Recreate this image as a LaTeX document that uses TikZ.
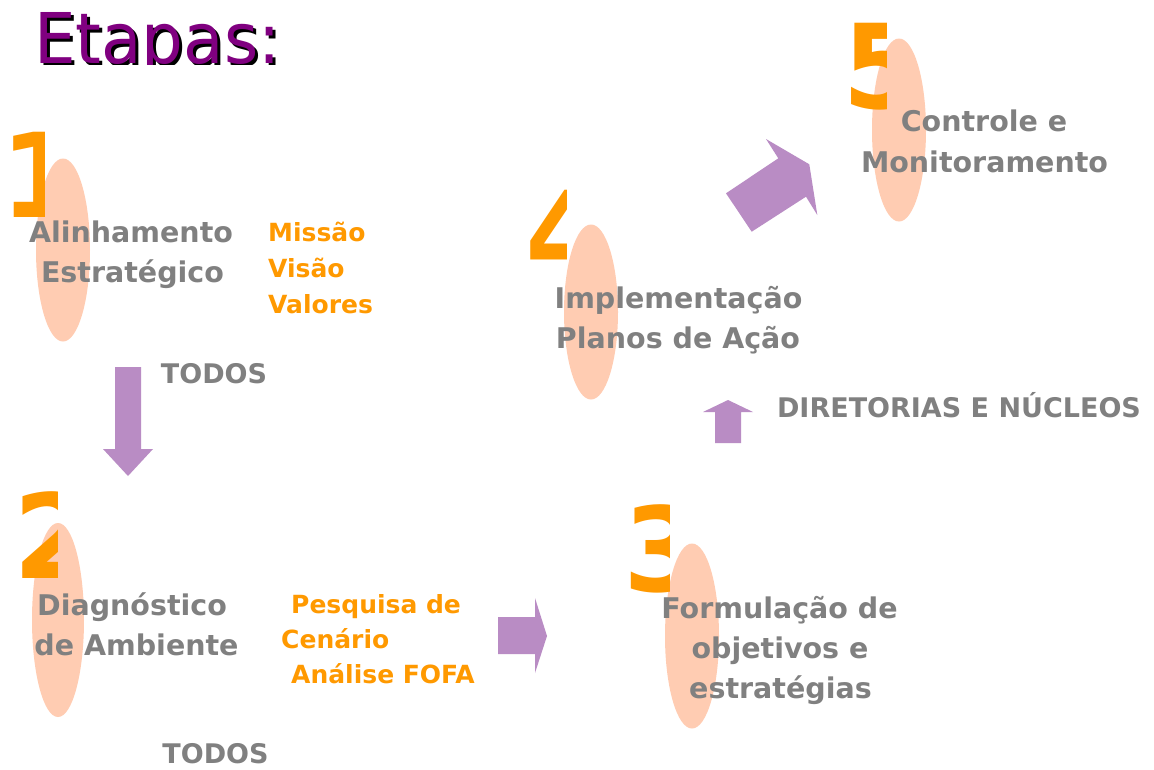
\documentclass[tikz,border=0pt]{standalone}
\usepackage{fontspec}
\setmainfont{DejaVu Sans}
\newfontfamily\titlefont[FakeStretch=0.94]{DejaVu Sans}
\usetikzlibrary{shapes.geometric}
\definecolor{lbl}{RGB}{128,128,128}
\definecolor{org}{RGB}{255,153,0}
\definecolor{peach}{RGB}{255,204,178}
\definecolor{arrowc}{RGB}{185,140,196}
\definecolor{ttl}{RGB}{128,0,128}
\begin{document}
\begin{tikzpicture}[x=1pt,y=-1pt,
  stage/.style={ellipse, fill=peach, draw=none, inner sep=0pt},
  lbltext/.style={text=lbl, font=\fontsize{28.5}{34}\selectfont\bfseries, inner sep=0pt, anchor=base},
  subtext/.style={text=org, font=\fontsize{25}{30}\selectfont\bfseries, inner sep=0pt, anchor=base west},
  who/.style={text=lbl, font=\fontsize{27}{32}\selectfont\bfseries, inner sep=0pt, anchor=base},
  digit/.style={text=org, font=\fontsize{117}{120}\selectfont\bfseries, inner sep=0pt, anchor=base west},
  titletext/.style={font=\titlefont\fontsize{70}{80}\selectfont, inner sep=0pt, anchor=base west},
  blockarrow/.style={fill=arrowc, draw=none}]
\useasboundingbox (0,0) rectangle (1154,769);
\fill[white] (0,0) rectangle (1154,769);

% title
\begin{scope}
  \clip (0,0) rectangle (400,64);
  \node[titletext, text=black] (tshadow) at (37,66) {Etapas:};
  \node[titletext, text=ttl] (title) at (34,63) {Etapas:};
\end{scope}

% ellipses
\node[stage, minimum width=54pt, minimum height=183pt] (e1) at (63,250) {};
\node[stage, minimum width=52pt, minimum height=194pt] (e2) at (58,620) {};
\node[stage, minimum width=54pt, minimum height=185pt] (e3) at (692,636) {};
\node[stage, minimum width=54pt, minimum height=175pt] (e4) at (591,312) {};
\node[stage, minimum width=54pt, minimum height=183pt] (e5) at (899,130) {};

% digits (clipped on the right)
\begin{scope}
  \clip (0,0) rectangle (44,769);
  \node[digit] (d1) at (0,217) {1};
\end{scope}
\begin{scope}
  \clip (0,0) rectangle (57,769);
  \node[digit] (d2) at (13,578) {2};
\end{scope}
\begin{scope}
  \clip (600,0) rectangle (669,769);
  \node[digit] (d3) at (623,591) {3};
\end{scope}
\begin{scope}
  \clip (500,0) rectangle (566,769);
  \node[digit] (d4) at (525,275) {4};
\end{scope}
\begin{scope}
  \clip (800,0) rectangle (886,769);
  \node[digit] (d5) at (842,108) {5};
\end{scope}

% stage labels
\node[lbltext] (l1a) at (131,242) {Alinhamento};
\node[lbltext] (l1b) at (132.5,282) {Estratégico};
\node[lbltext] (l2a) at (132,615) {Diagnóstico};
\node[lbltext] (l2b) at (136.5,655) {de Ambiente};
\node[lbltext] (l3a) at (779.5,618) {Formulação de};
\node[lbltext] (l3b) at (780,658) {objetivos e};
\node[lbltext] (l3c) at (780.5,698) {estratégias};
\node[lbltext] (l4a) at (678.5,308) {Implementação};
\node[lbltext] (l4b) at (678,348) {Planos de Ação};
\node[lbltext] (l5a) at (984,131) {Controle e};
\node[lbltext] (l5b) at (984.5,172) {Monitoramento};

% orange sub items
\node[subtext] (s1a) at (268,241) {Missão};
\node[subtext] (s1b) at (268,277) {Visão};
\node[subtext] (s1c) at (268,313) {Valores};
\node[subtext] (s2a) at (291,613) {Pesquisa de};
\node[subtext] (s2b) at (281,648) {Cenário};
\node[subtext] (s2c) at (291,683) {Análise FOFA};

% who
\node[who] (w1) at (214,383) {TODOS};
\node[who] (w2) at (215.5,763) {TODOS};
\node[who] (w3) at (959,417) {DIRETORIAS E NÚCLEOS};

% block arrows
\fill[blockarrow] (115,367) -- (141,367) -- (141,449) -- (153,449) -- (128,476) -- (103,449) -- (115,449) -- cycle;
\fill[blockarrow] (498,617) -- (535,617) -- (535,598) -- (547,636) -- (535,673) -- (535,654) -- (498,654) -- cycle;
\fill[blockarrow] (715,443) -- (715,412) -- (703,412) -- (728,400) -- (753,412) -- (741,412) -- (741,443) -- cycle;
\fill[blockarrow] (726,193.3) -- (778.3,158.3) -- (766,139) -- (809.3,164.3) -- (817.3,215) -- (806,196.7) -- (751.7,231.7) -- cycle;
\end{tikzpicture}
\end{document}
